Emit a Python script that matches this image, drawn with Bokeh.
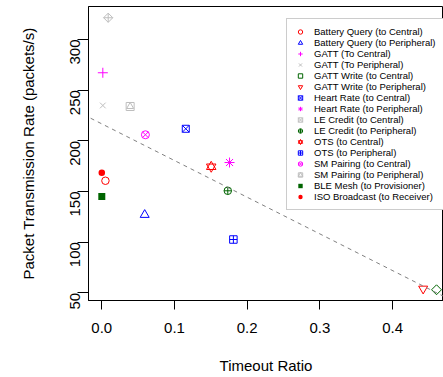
import numpy as np
from bokeh.plotting import figure
from bokeh.models import Range1d, FixedTicker, PrintfTickFormatter, Slope, Legend, LegendItem
from bokeh.embed import file_html
from bokeh.resources import INLINE

labels = [
    "Battery Query (to Central)", "Battery Query (to Peripheral)",
    "GATT (To Central)", "GATT (To Peripheral)",
    "GATT Write (to Central)", "GATT Write (to Peripheral)",
    "Heart Rate (to Central)", "Heart Rate (to Peripheral)",
    "LE Credit (to Central)", "LE Credit (to Peripheral)",
    "OTS (to Central)", "OTS (to Peripheral)",
    "SM Pairing (to Central)", "SM Pairing (to Peripheral)",
    "BLE Mesh (to Provisioner)", "ISO Broadcast (to Receiver)",
]
timeout_ratio = [0.005, 0.059, 0.0014, 0.0014, 0.4604, 0.442, 0.1155, 0.1757,
                 0.0088, 0.1733, 0.1505, 0.181, 0.060, 0.039, 0.0, 0.0]
rate = [160.6, 127.0, 267.2, 234.9, 53.0, 54.0, 211.9, 178.6,
        321.5, 150.7, 174.4, 102.6, 206.0, 233.9, 145.0, 168.5]
x_ticks = [0.0, 0.1, 0.2, 0.3, 0.4]
y_ticks = [50, 100, 150, 200, 250, 300]

RED, BLUE, MAG, GRAY, DGREEN = "#FF0000", "#0000FF", "#FF00FF", "#BEBEBE", "#006400"
# (marker, size, angle, filled) parts per series
styles = [
    (RED, [("circle", 7.5, 0, False)]),
    (BLUE, [("triangle", 9, 0, False)]),
    (MAG, [("cross", 10, 0, False)]),
    (GRAY, [("x", 8, 0, False)]),
    (DGREEN, [("square", 7, np.pi / 4, False)]),
    (RED, [("inverted_triangle", 9, 0, False)]),
    (BLUE, [("square_x", 7, 0, False)]),
    (MAG, [("asterisk", 10, 0, False)]),
    (GRAY, [("square_x", 6.5, np.pi / 4, False)]),
    (DGREEN, [("circle_cross", 7.5, 0, False)]),
    (RED, [("triangle", 9.5, 0, False), ("inverted_triangle", 9.5, 0, False)]),
    (BLUE, [("square_cross", 7.5, 0, False)]),
    (MAG, [("circle_x", 8, 0, False)]),
    (GRAY, [("square", 8, 0, False), ("triangle", 7, 0, False)]),
    (DGREEN, [("square", 7, 0, True)]),
    (RED, [("circle", 6.5, 0, True)]),
]

FONT = "Liberation Sans"

p = figure(width=443, height=377, output_backend="svg", toolbar_location=None,
           x_range=Range1d(-0.01829, 0.4700), y_range=Range1d(42.4, 332.6),
           min_border_left=88, min_border_right=0, min_border_top=6, min_border_bottom=77)
p.background_fill_color = "white"
p.border_fill_color = "white"
p.outline_line_color = "black"
p.outline_line_width = 1
p.xgrid.visible = False
p.ygrid.visible = False

items = []
for i, (color, parts) in enumerate(styles):
    rs = []
    for (mk, sz, ang, filled) in parts:
        r = p.scatter([timeout_ratio[i]], [rate[i]], marker=mk, size=sz, angle=ang,
                      line_color=None if filled else color, line_width=1,
                      fill_color=color if filled else None)
        rs.append(r)
    items.append(LegendItem(label=labels[i], renderers=rs))

m, b = np.polyfit(np.array(timeout_ratio), np.array(rate), 1)
p.add_layout(Slope(gradient=m, y_intercept=b, line_color="#808080", line_width=1, line_dash="4 4"))

p.xaxis.ticker = FixedTicker(ticks=x_ticks)
p.xaxis.formatter = PrintfTickFormatter(format="%.1f")
p.yaxis.ticker = FixedTicker(ticks=y_ticks)
p.yaxis.formatter = PrintfTickFormatter(format="%d")
p.xaxis.axis_label = "Timeout Ratio"
p.yaxis.axis_label = "Packet Transmission Rate (packets/s)"
for ax in (p.xaxis[0], p.yaxis[0]):
    ax.major_tick_in = 0
    ax.minor_tick_in = 0
    ax.minor_tick_out = 0
    ax.major_tick_line_color = "black"
    ax.axis_line_color = "black"
    ax.major_label_text_font = FONT
    ax.major_label_text_font_size = "15px"
    ax.major_label_text_color = "black"
    ax.axis_label_text_font = FONT
    ax.axis_label_text_font_size = "15px"
    ax.axis_label_text_font_style = "normal"
    ax.axis_label_text_color = "black"
p.xaxis.major_tick_out = 9
p.xaxis.major_label_standoff = 13
p.xaxis.axis_label_standoff = 21
p.yaxis.major_tick_out = 11
p.yaxis.major_label_orientation = np.pi / 2
p.yaxis.major_label_standoff = 2
p.yaxis.axis_label_standoff = 26

legend = Legend(items=items, location=(198, 90))
legend.label_text_font = FONT
legend.label_text_font_size = "9.5px"
legend.label_text_color = "black"
legend.glyph_width = 12
legend.glyph_height = 11
legend.label_height = 11
legend.label_width = 140
legend.label_standoff = 8
legend.padding = 7
legend.spacing = 0
legend.margin = 0
legend.border_line_color = "#999999"
legend.border_line_width = 1
legend.background_fill_color = "white"
legend.background_fill_alpha = 1.0
p.add_layout(legend)

open("out.html", "w").write(file_html(p, INLINE))
